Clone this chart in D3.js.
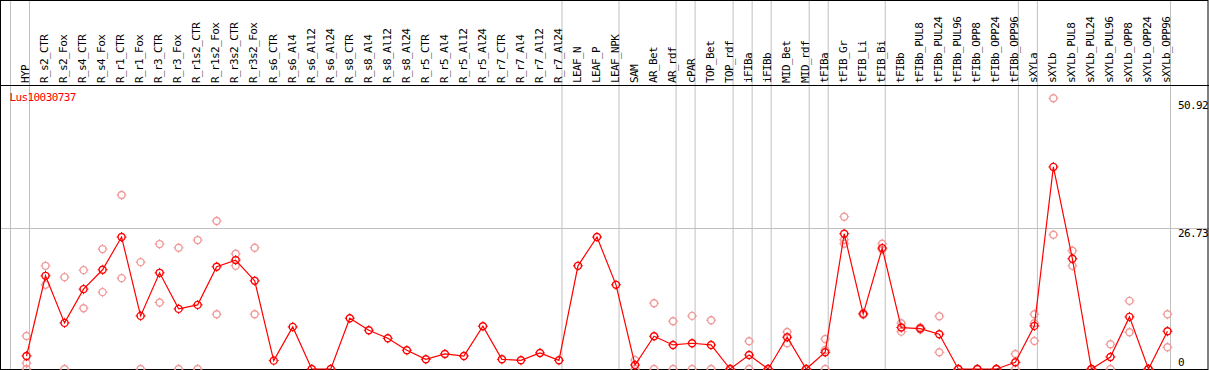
<!DOCTYPE html>
<html lang="en">
<head>
  <meta charset="UTF-8">
  <title>Lus10030737</title>
  <script src="https://d3js.org/d3.v7.min.js"></script>
  <style>
    body {
      margin: 0;
      padding: 0;
      background-color: #fff;
    }
    svg {
      display: block;
    }
    text {
      font-family: "DejaVu Sans Mono", monospace;
      font-size: 11px;
      letter-spacing: -0.6px;
    }
  </style>
</head>
<body>
  <svg id="chart"></svg>
  <script>
const width = 1209;
const height = 370;

const geneName = "Lus10030737";

const samples = [
  "HYP", "R_s2_CTR", "R_s2_Fox", "R_s4_CTR", "R_s4_Fox", "R_r1_CTR", "R_r1_Fox",
  "R_r3_CTR", "R_r3_Fox", "R_r1s2_CTR", "R_r1s2_Fox", "R_r3s2_CTR", "R_r3s2_Fox",
  "R_s6_CTR", "R_s6_Al4", "R_s6_Al12", "R_s6_Al24", "R_s8_CTR", "R_s8_Al4", "R_s8_Al12",
  "R_s8_Al24", "R_r5_CTR", "R_r5_Al4", "R_r5_Al12", "R_r5_Al24", "R_r7_CTR", "R_r7_Al4",
  "R_r7_Al12", "R_r7_Al24", "LEAF_N", "LEAF_P", "LEAF_NPK", "SAM", "AR_Bet", "AR_rdf",
  "cPAR", "TOP_Bet", "TOP_rdf", "iFIBa", "iFIBb", "MID_Bet", "MID_rdf", "tFIBa",
  "tFIB_Gr", "tFIB_Li", "tFIB_Bi", "tFIBb", "tFIBb_PUL8", "tFIBb_PUL24", "tFIBb_PUL96",
  "tFIBb_OPP8", "tFIBb_OPP24", "tFIBb_OPP96", "sXYLa", "sXYLb", "sXYLb_PUL8",
  "sXYLb_PUL24", "sXYLb_PUL96", "sXYLb_OPP8", "sXYLb_OPP24", "sXYLb_OPP96"
];

// mean expression per sample (red line)
const means = [
  2.47, 17.7, 8.76, 15.17, 18.85, 25.07, 10.09, 18.27, 11.42, 12.18, 19.42, 20.69, 16.75,
  1.59, 8.0, 0, 0, 9.64, 7.36, 5.83, 3.55, 1.84, 2.86, 2.47, 8.12, 1.84, 1.65, 3.05, 1.65,
  19.6, 25.07, 15.99, 0.76, 6.22, 4.57, 4.89, 4.57, 0, 2.66, 0, 6.03, 0, 3.17,
  25.7, 10.47, 22.97, 7.87, 7.68, 6.6, 0, 0, 0, 1.27, 8.19, 38.39, 20.94,
  0, 2.28, 9.9, 0, 7.17
];

// individual replicates (pale circles)
const replicates = [
  [6.28, 1.08, 0], [19.6, 15.99], [17.45, 0], [18.78, 11.55], [22.78, 14.6], [33.06, 17.26],
  [20.3, 0], [23.73, 12.63], [23.03, 0], [24.49, 0], [28.11, 10.41], [21.89, 19.6], [23.03, 10.41],
  [], [], [], [], [], [], [], [], [], [], [], [], [], [], [], [], [], [], [],
  [1.71, 0], [12.5, 0], [9.07, 0], [10.09, 0], [9.27, 0], [0, 0], [5.27, 0], [0, 0],
  [7.04, 4.89], [0, 0], [5.71, 3.6, 0], [28.93, 24.56, 23.8], [10.6, 10.3], [23.8, 22.65],
  [8.69, 7.1], [7.9, 7.5], [10.03, 3.17], [0, 0], [0, 0], [0, 0], [2.86, 0],
  [10.41, 8.69, 5.33], [51.43, 25.51], [22.46, 19.6], [0, 0], [4.7, 0], [12.94, 6.99],
  [0, 0], [10.41, 4.13]
];

// first sample of each tissue group (gray separators)
const groupStarts = ["HYP", "R_s2_CTR", "LEAF_N", "SAM", "cPAR", "TOP_Bet", "iFIBa",
  "iFIBb", "MID_Bet", "tFIBa", "tFIB_Gr", "tFIBb", "sXYLa", "sXYLb"];

const yTicks = [0, 26.73, 50.92];

const svg = d3.select("#chart")
  .attr("width", width)
  .attr("height", height);

const x = d3.scaleBand()
  .domain(samples)
  .range([10.5, 1170.5])
  .padding(0);

const px = d => x(d) + 16;

const y = d3.scaleLinear()
  .domain([0, 26.73])
  .range([369, 228.3]);

const grid = "#c0c0c0";

// separators
svg.selectAll("line.sep")
  .data(groupStarts)
  .enter().append("line")
  .attr("class", "sep")
  .attr("x1", d => x(d)).attr("x2", d => x(d))
  .attr("y1", 0).attr("y2", height)
  .attr("stroke", grid);

svg.append("line")
  .attr("x1", x.range()[1]).attr("x2", x.range()[1])
  .attr("y1", 0).attr("y2", height)
  .attr("stroke", grid);

// horizontal grid at middle tick
svg.append("line")
  .attr("x1", 0).attr("x2", width)
  .attr("y1", Math.round(y(26.73)) + 0.5).attr("y2", Math.round(y(26.73)) + 0.5)
  .attr("stroke", grid);

// frame
svg.append("rect")
  .attr("x", 0.5).attr("y", 0.5)
  .attr("width", width - 1.5).attr("height", 369)
  .attr("fill", "none")
  .attr("stroke", "#000");

svg.append("line")
  .attr("x1", 0).attr("x2", width)
  .attr("y1", 85.5).attr("y2", 85.5)
  .attr("stroke", "#000");

// sample labels
svg.selectAll("text.sample")
  .data(samples)
  .enter().append("text")
  .attr("class", "sample")
  .attr("transform", d => `translate(${px(d) + 2.8},83) rotate(-90)`)
  .attr("fill", "#000")
  .text(d => d);

// y labels on the right
svg.selectAll("text.ytick")
  .data(yTicks)
  .enter().append("text")
  .attr("class", "ytick")
  .attr("x", 1178)
  .attr("y", d => d === 0 ? 366 : y(d) + 8.5)
  .attr("fill", "#000")
  .text(d => d);

svg.append("text")
  .attr("x", 9.5)
  .attr("y", 101)
  .attr("fill", "red")
  .text(geneName);

function marker(g, color) {
  g.append("circle")
    .attr("r", 3.5)
    .attr("fill", "none")
    .attr("stroke", color)
    .attr("stroke-width", 1.4);
  g.append("path")
    .attr("d", "M0,-5V-3.5M0,3.5V5M-5,0H-3.5M3.5,0H5")
    .attr("stroke", color)
    .attr("stroke-width", 1);
}

// replicates
const repData = [];
replicates.forEach((reps, i) => {
  reps.forEach(v => repData.push({ s: samples[i], v }));
});

svg.selectAll("g.rep")
  .data(repData)
  .enter().append("g")
  .attr("class", "rep")
  .attr("transform", d => `translate(${px(d.s)},${y(d.v)})`)
  .each(function () { marker(d3.select(this), "#f09a9a"); });

// mean line
const line = d3.line()
  .x((d, i) => px(samples[i]))
  .y(d => y(d));

svg.append("path")
  .datum(means)
  .attr("d", line)
  .attr("fill", "none")
  .attr("stroke", "red")
  .attr("stroke-width", 1.2);

svg.selectAll("g.mean")
  .data(means)
  .enter().append("g")
  .attr("class", "mean")
  .attr("transform", (d, i) => `translate(${px(samples[i])},${y(d)})`)
  .each(function () { marker(d3.select(this), "red"); });
  </script>
</body>
</html>
